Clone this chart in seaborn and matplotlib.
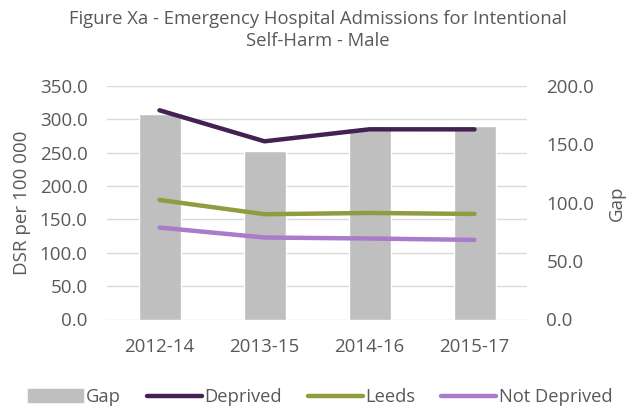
import numpy as np
import pandas as pd
import seaborn as sns
import matplotlib.pyplot as plt
from matplotlib.patches import Patch
from matplotlib.lines import Line2D

# Data
periods = ['2012-14', '2013-15', '2014-16', '2015-17']
gap = [175.8, 144.2, 163.7, 165.7]
deprived = [313.6, 267.1, 285.1, 285.0]
leeds = [179.2, 157.8, 159.7, 158.2]
not_deprived = [137.8, 122.9, 121.4, 119.3]

sns.set_theme(style='white')
plt.rcParams['font.family'] = ['Open Sans', 'DejaVu Sans']
text_col = '#595959'
fs = 13.5

df_lines = pd.DataFrame({
    'period': periods * 3,
    'value': deprived + leeds + not_deprived,
    'series': ['Deprived'] * 4 + ['Leeds'] * 4 + ['Not Deprived'] * 4,
})
df_gap = pd.DataFrame({'period': periods, 'gap': gap})

colors = {'Deprived': '#432152', 'Leeds': '#939B41', 'Not Deprived': '#AA7BC9'}
bar_col = '#BFBFBF'

fig = plt.figure(figsize=(6.28, 4.12), dpi=100)
ax = fig.add_axes([107 / 628, 1 - 319.5 / 412, 420 / 628, 233.5 / 412])
ax2 = ax.twinx()

sns.barplot(data=df_gap, x='period', y='gap', color=bar_col, width=0.4,
            saturation=1, ax=ax2)
sns.lineplot(data=df_lines, x='period', y='value', hue='series', palette=colors,
             linewidth=3.2, ax=ax, legend=False, sort=False)
for ln in ax.get_lines():
    ln.set_solid_capstyle('round')

# lines on top of the bars
ax.set_zorder(ax2.get_zorder() + 1)
ax.patch.set_visible(False)

ax.set_ylim(0, 350)
ax.set_yticks(np.arange(0, 351, 50))
ax.set_yticklabels([f'{v:.1f}' for v in np.arange(0, 351, 50)])
ax2.set_ylim(0, 200)
ax2.set_yticks(np.arange(0, 201, 50))
ax2.set_yticklabels([f'{v:.1f}' for v in np.arange(0, 201, 50)])
ax.set_xlim(-0.5, 3.5)
ax2.set_xlim(-0.5, 3.5)

# gridlines on the secondary axes so they sit behind the bars
for v in np.arange(0, 351, 50):
    ax2.axhline(v * 200 / 350, color='#D9D9D9', linewidth=1, zorder=0)

for a in (ax, ax2):
    for s in a.spines.values():
        s.set_visible(False)
    a.tick_params(axis='both', length=0, labelsize=fs, colors=text_col)
ax.tick_params(axis='y', pad=14)
ax2.tick_params(axis='y', pad=14)
ax.tick_params(axis='x', pad=13)

ax.set_xlabel('')
ax.set_ylabel('DSR per 100 000', fontsize=fs, color=text_col, labelpad=6)
ax2.set_ylabel('Gap', fontsize=fs, color=text_col, labelpad=10)

fig.text(0.506, 0.975, 'Figure Xa - Emergency Hospital Admissions for Intentional\nSelf-Harm - Male',
         ha='center', va='top', fontsize=13.3, color=text_col, linespacing=1.3)

handles = [Patch(color=bar_col, label='Gap')] + [
    Line2D([0], [0], color=c, linewidth=3.2, solid_capstyle='round', label=k)
    for k, c in colors.items()]
fig.legend(handles=handles, loc='center', bbox_to_anchor=(0.51, 0.036), ncol=4,
           frameon=False, fontsize=13.2, handlelength=3.0, handletextpad=0.15,
           columnspacing=1.4, labelcolor=text_col, borderaxespad=0, borderpad=0)

fig.savefig('out.png', dpi=100)
